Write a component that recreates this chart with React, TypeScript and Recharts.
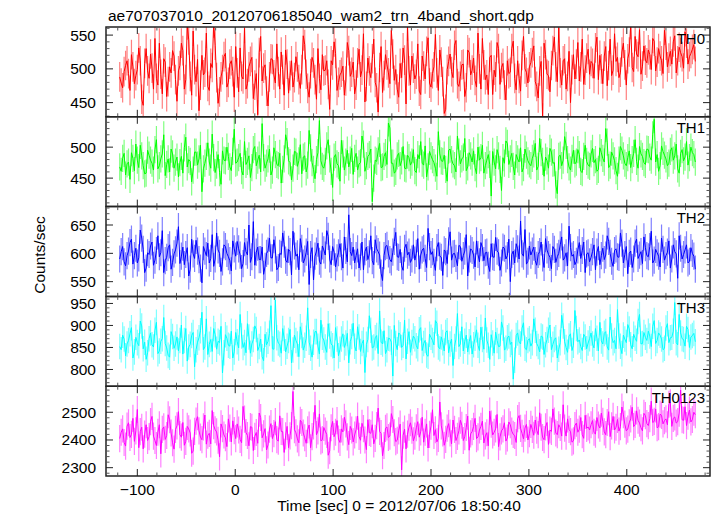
import { LineChart, Line, XAxis, YAxis, ErrorBar, ReferenceArea } from "recharts";

// light curve bins: t = -118 + 1.5 * i  (sec from 2012/07/06 18:50:40)
// each band is read as two interleaved lists: "a" = even bins, "b" = odd bins
const T_START = -118;
const T_STEP = 1.5;

const th0a = [
  488, 472, 505, 493, 521, 478, 499, 512, 446, 530, 486, 501, 545, 476, 492, 515, 459, 503, 527, 484,
  497, 538, 470, 565, 489, 556, 481, 438, 520, 495, 474, 508, 568, 487, 466, 499, 523, 480, 512, 458,
  494, 531, 485, 470, 503, 517, 476, 432, 548, 501, 467, 488, 514, 479, 496, 525, 461, 507, 490, 473,
  518, 484, 499, 536, 471, 493, 509, 455, 486, 521, 498, 477, 512, 540, 468, 491, 504, 482, 527, 495,
  463, 509, 488, 552, 474, 497, 515, 480, 436, 533, 490, 506, 478, 522, 499, 458, 487, 513, 563, 476,
  501, 492, 467, 519, 485, 546, 473, 503, 494, 528, 481, 440, 511, 496, 535, 478, 489, 507, 472, 524,
  498, 483, 553, 470, 506, 491, 517, 462, 488, 530, 502, 476, 512, 495, 541, 469, 486, 520, 500, 479,
  509, 534, 474, 497, 427, 521, 490, 505, 547, 481, 494, 512, 470, 526, 499, 485, 539, 503, 477, 516,
  492, 508, 531, 484, 500, 519, 475, 544, 498, 511, 487, 525, 506, 515, 566, 496, 522, 558, 504, 513,
  528, 499, 541, 510, 519, 493, 535, 516, 507, 549, 512, 524, 501, 538, 518, 529, 511,
];
const th0b = [
  479, 496, 512, 468, 503, 490, 531, 455, 508, 497, 522, 470, 486, 538, 463, 510, 481, 494, 519, 452,
  505, 527, 484, 543, 461, 499, 514, 476, 491, 553, 468, 502, 535, 449, 488, 518, 473, 507, 496, 533,
  466, 489, 560, 478, 511, 456, 493, 524, 482, 506, 445, 515, 491, 537, 470, 499, 528, 464, 512, 487,
  503, 471, 549, 492, 458, 517, 484, 530, 469, 497, 512, 440, 506, 523, 480, 495, 461, 539, 489, 510,
  476, 529, 498, 451, 516, 487, 544, 472, 502, 465, 521, 494, 557, 483, 470, 508, 531, 448, 497, 519,
  485, 537, 462, 504, 526, 479, 493, 551, 468, 510, 434, 499, 522, 487, 542, 474, 506, 459, 528, 491,
  516, 473, 500, 545, 484, 462, 520, 498, 539, 477, 508, 454, 493, 530, 486, 512, 467, 548, 495, 503,
  524, 481, 457, 511, 538, 492, 466, 527, 503, 561, 476, 515, 489, 450, 521, 507, 482, 544, 498, 529,
  511, 486, 547, 520, 478, 533, 505, 490, 552, 517, 495, 538, 476, 525, 502, 548, 518, 492, 534, 509,
  521, 545, 497, 530, 512, 557, 503, 526, 540, 494, 532, 518, 555, 507, 523, 536,
];

const th1a = [
  468, 482, 455, 476, 491, 462, 479, 503, 470, 458, 487, 474, 496, 465, 481, 520, 472, 460, 489, 476,
  452, 485, 499, 468, 477, 463, 492, 481, 428, 474, 507, 466, 483, 471, 459, 494, 478, 485, 462, 529,
  476, 490, 455, 472, 486, 467, 501, 479, 460, 483, 474, 497, 463, 488, 470, 442, 481, 509, 475, 466,
  492, 478, 457, 486, 471, 499, 464, 480, 543, 469, 477, 512, 461, 484, 473, 445, 489, 476, 468, 498,
  482, 463, 475, 505, 470, 488, 412, 479, 494, 467, 485, 472, 531, 474, 461, 490, 478, 466, 487, 471,
  496, 459, 481, 474, 502, 468, 486, 475, 453, 489, 477, 464, 495, 480, 470, 518, 473, 484, 462, 491,
  476, 467, 500, 483, 458, 479, 472, 493, 465, 486, 430, 474, 506, 481, 469, 488, 476, 460, 497, 478,
  470, 489, 463, 514, 477, 484, 466, 492, 475, 425, 487, 479, 503, 468, 482, 473, 496, 461, 485, 477,
  469, 498, 480, 464, 491, 476, 508, 471, 486, 462, 479, 495, 474, 483, 467, 490, 477, 501, 485, 472,
  496, 479, 545, 488, 470, 493, 481, 474, 499, 486, 465, 490, 478, 509, 483, 491, 476,
];
const th1b = [
  461, 490, 473, 448, 482, 505, 467, 486, 457, 495, 479, 463, 512, 470, 489, 454, 481, 497, 466, 484,
  475, 458, 516, 480, 444, 492, 471, 503, 465, 485, 476, 521, 459, 488, 440, 479, 500, 468, 493, 474,
  483, 462, 509, 477, 451, 496, 470, 487, 538, 466, 481, 455, 499, 472, 490, 464, 520, 478, 447, 493,
  469, 504, 484, 460, 527, 475, 449, 491, 478, 466, 502, 481, 435, 488, 470, 511, 463, 495, 479, 456,
  490, 473, 518, 461, 485, 497, 450, 477, 506, 468, 491, 539, 474, 458, 486, 470, 501, 465, 483, 476,
  462, 488, 509, 471, 452, 493, 480, 466, 525, 478, 487, 445, 497, 473, 460, 492, 481, 514, 468, 486,
  494, 457, 479, 503, 470, 488, 421, 476, 496, 464, 483, 510, 472, 490, 455, 481, 499, 467, 487, 473,
  482, 506, 469, 491, 453, 478, 498, 474, 439, 485, 470, 517, 480, 463, 495, 476, 488, 459, 503, 471,
  489, 475, 461, 499, 482, 530, 467, 492, 478, 453, 501, 486, 470, 494, 480, 512, 466, 489, 475, 497,
  484, 520, 476, 461, 502, 487, 470, 493, 479, 505, 458, 496, 484, 471, 500, 488,
];

const th2a = [
  590, 612, 578, 604, 625, 596, 583, 641, 607, 574, 598, 620, 588, 631, 601, 566, 593, 615, 584, 606,
  647, 595, 580, 610, 572, 599, 623, 589, 548, 604, 618, 591, 577, 636, 600, 585, 612, 594, 569, 608,
  621, 597, 582, 603, 650, 594, 579, 611, 589, 563, 600, 627, 592, 606, 575, 598, 616, 584, 603, 639,
  595, 571, 609, 590, 621, 598, 553, 604, 586, 613, 597, 630, 580, 602, 592, 617, 574, 605, 668, 596,
  583, 608, 594, 571, 611, 599, 587, 624, 603, 565, 596, 614, 589, 602, 637, 593, 578, 609, 597, 584,
  615, 600, 572, 606, 591, 644, 598, 584, 610, 595, 561, 603, 622, 588, 600, 578, 612, 596, 633, 590,
  605, 576, 598, 619, 587, 602, 568, 594, 628, 601, 583, 609, 596, 550, 604, 617, 590, 599, 642, 586,
  597, 611, 579, 603, 592, 626, 598, 573, 607, 594, 615, 588, 601, 648, 595, 580, 606, 591, 620, 599,
  585, 603, 571, 612, 596, 589, 631, 600, 577, 608, 593, 618, 598, 564, 604, 590, 625, 597, 582, 610,
  594, 639, 588, 601, 576, 607, 596, 622, 590, 603, 556, 609, 598, 615, 586, 600, 572,
];
const th2b = [
  603, 585, 596, 619, 581, 609, 592, 627, 566, 601, 613, 579, 605, 594, 640, 587, 610, 572, 599, 618,
  582, 611, 598, 560, 625, 591, 604, 574, 612, 596, 583, 633, 590, 606, 568, 615, 600, 587, 622, 595,
  608, 573, 619, 597, 584, 656, 602, 589, 611, 577, 604, 592, 624, 571, 600, 636, 588, 607, 562, 613,
  599, 626, 583, 602, 545, 610, 595, 618, 581, 606, 640, 590, 612, 576, 601, 594, 629, 585, 603, 611,
  596, 574, 620, 603, 589, 631, 580, 608, 597, 552, 612, 599, 585, 621, 594, 607, 570, 616, 602, 590,
  588, 626, 597, 609, 575, 612, 603, 570, 619, 593, 606, 582, 638, 599, 591, 614, 586, 604, 560, 608,
  597, 622, 585, 610, 601, 579, 617, 593, 604, 570, 611, 590, 625, 598, 583, 608, 657, 595, 581, 613,
  604, 587, 598, 620, 575, 606, 593, 612, 584, 600, 629, 592, 578, 610, 598, 586, 619, 605, 566, 601,
  593, 615, 602, 580, 609, 597, 621, 586, 605, 594, 636, 583, 612, 600, 575, 618, 591, 603, 629, 596,
  612, 583, 607, 595, 627, 588, 602, 574, 615, 599, 631, 590, 606, 583, 610, 595,
];

const th3a = [
  852, 878, 831, 866, 895, 840, 861, 910, 847, 823, 870, 856, 889, 836, 864, 918, 849, 828, 875, 858,
  842, 901, 866, 819, 857, 884, 845, 872, 930, 851, 834, 868, 893, 846, 861, 792, 879, 855, 887, 840,
  863, 925, 850, 838, 874, 858, 899, 843, 869, 820, 856, 882, 847, 958, 860, 837, 871, 853, 891, 844,
  866, 829, 877, 855, 940, 848, 862, 886, 835, 873, 851, 904, 858, 826, 869, 846, 881, 860, 815, 875,
  853, 897, 841, 867, 857, 922, 849, 872, 836, 862, 888, 845, 870, 785, 859, 883, 850, 912, 864, 839,
  876, 854, 890, 843, 866, 830, 873, 856, 905, 847, 861, 884, 838, 869, 852, 927, 858, 842, 878, 863,
  835, 871, 855, 896, 846, 867, 823, 860, 885, 852, 908, 844, 872, 857, 778, 877, 862, 894, 848, 866,
  853, 915, 859, 840, 874, 856, 889, 845, 868, 826, 861, 899, 850, 876, 843, 934, 863, 852, 880, 847,
  870, 858, 893, 842, 865, 882, 851, 919, 861, 847, 876, 836, 869, 902, 856, 880, 864, 925, 859, 873,
  887, 852, 911, 866, 878, 845, 894, 861, 873, 952, 856, 883, 868, 898, 850, 877, 863,
];
const th3b = [
  845, 869, 858, 881, 826, 873, 854, 899, 862, 838, 883, 851, 907, 842, 870, 859, 832, 886, 848, 874,
  866, 835, 893, 851, 877, 806, 862, 888, 845, 915, 857, 841, 879, 864, 898, 838, 871, 853, 826, 884,
  849, 876, 861, 904, 837, 868, 891, 852, 829, 880, 864, 945, 846, 872, 857, 893, 840, 866, 815, 878,
  858, 897, 844, 871, 862, 828, 886, 853, 912, 867, 839, 876, 854, 895, 831, 869, 850, 882, 863, 905,
  842, 874, 859, 793, 868, 889, 851, 877, 933, 858, 836, 871, 862, 900, 845, 879, 855, 824, 886, 861,
  870, 847, 895, 859, 833, 880, 866, 911, 851, 874, 842, 888, 858, 809, 869, 852, 897, 864, 840, 877,
  856, 890, 843, 868, 917, 855, 879, 837, 866, 853, 894, 848, 876, 862, 821, 883, 858, 906, 845, 870,
  861, 889, 852, 876, 834, 868, 901, 857, 872, 846, 923, 863, 839, 881, 855, 893, 867, 843, 874, 860,
  883, 849, 871, 907, 858, 886, 844, 876, 866, 936, 853, 878, 861, 892, 847, 871, 909, 858, 884, 866,
  876, 898, 859, 883, 869, 848, 904, 872, 887, 861, 925, 870, 853, 891, 874, 882,
];

const th0123a = [
  2405, 2440, 2378, 2462, 2420, 2395, 2510, 2430, 2368, 2455, 2412, 2485, 2398, 2428, 2350, 2447, 2416, 2473, 2390, 2438,
  2502, 2410, 2381, 2449, 2425, 2360, 2468, 2433, 2401, 2490, 2417, 2386, 2452, 2429, 2339, 2441, 2408, 2476, 2393, 2434,
  2458, 2402, 2521, 2427, 2379, 2446, 2413, 2388, 2481, 2422, 2364, 2439, 2405, 2466, 2396, 2431, 2355, 2449, 2415, 2575,
  2426, 2390, 2463, 2408, 2437, 2372, 2451, 2419, 2494, 2401, 2432, 2345, 2444, 2412, 2470, 2391, 2429, 2458, 2383, 2436,
  2418, 2486, 2399, 2441, 2365, 2427, 2455, 2406, 2515, 2423, 2380, 2447, 2414, 2474, 2394, 2433, 2292, 2439, 2421, 2462,
  2397, 2444, 2410, 2482, 2428, 2371, 2450, 2416, 2393, 2537, 2425, 2402, 2459, 2386, 2438, 2413, 2471, 2398, 2445, 2363,
  2430, 2478, 2411, 2449, 2389, 2426, 2504, 2418, 2440, 2376, 2433, 2462, 2407, 2455, 2420, 2391, 2488, 2424, 2443, 2400,
  2456, 2417, 2435, 2498, 2409, 2447, 2384, 2431, 2468, 2419, 2445, 2527, 2414, 2438, 2392, 2452, 2428, 2481, 2406, 2442,
  2436, 2470, 2421, 2454, 2497, 2429, 2463, 2412, 2485, 2446, 2432, 2519, 2457, 2439, 2476, 2448, 2505, 2461, 2433, 2488,
  2452, 2540, 2467, 2444, 2493, 2458, 2476, 2529, 2449, 2483, 2466, 2580, 2471, 2452, 2508, 2474, 2491,
];
const th0123b = [
  2428, 2391, 2450, 2409, 2478, 2433, 2372, 2446, 2421, 2398, 2466, 2414, 2380, 2455, 2438, 2402, 2491, 2425, 2367, 2451,
  2419, 2463, 2395, 2440, 2352, 2431, 2484, 2410, 2447, 2385, 2424, 2506, 2437, 2399, 2458, 2418, 2376, 2443, 2469, 2405,
  2436, 2390, 2475, 2416, 2448, 2362, 2427, 2497, 2408, 2441, 2382, 2459, 2423, 2401, 2487, 2430, 2415, 2372, 2452, 2437,
  2404, 2471, 2425, 2388, 2454, 2412, 2525, 2433, 2397, 2445, 2420, 2361, 2467, 2428, 2403, 2440, 2482, 2411, 2449, 2393,
  2437, 2413, 2460, 2400, 2473, 2424, 2386, 2452, 2431, 2343, 2442, 2409, 2495, 2426, 2399, 2457, 2417, 2368, 2446, 2435,
  2414, 2466, 2429, 2392, 2458, 2420, 2509, 2437, 2406, 2451, 2381, 2443, 2425, 2472, 2398, 2433, 2453, 2412, 2486, 2422,
  2449, 2405, 2436, 2468, 2415, 2379, 2457, 2428, 2492, 2411, 2440, 2396, 2465, 2432, 2416, 2477, 2442, 2404, 2456, 2423,
  2438, 2472, 2419, 2446, 2401, 2463, 2436, 2512, 2425, 2455, 2414, 2443, 2476, 2430, 2397, 2461, 2439, 2419, 2489, 2447,
  2455, 2428, 2481, 2443, 2467, 2419, 2502, 2451, 2436, 2474, 2448, 2491, 2433, 2462, 2518, 2456, 2471, 2444, 2496, 2459,
  2477, 2463, 2512, 2448, 2489, 2470, 2455, 2534, 2478, 2461, 2497, 2473, 2520, 2486, 2465, 2500,
];

const interleave = (a: number[], b: number[]) => a.flatMap((v, i) => (i < b.length ? [v, b[i]] : [v]));

const names = ["TH0", "TH1", "TH2", "TH3", "TH0123"];
const series = [
  interleave(th0a, th0b),
  interleave(th1a, th1b),
  interleave(th2a, th2b),
  interleave(th3a, th3b),
  interleave(th0123a, th0123b),
];
const errors = [22, 22, 24, 29, 49];
const colors = ["#ff0000", "#00ff00", "#0000ff", "#00ffff", "#ff00ff"];
const yDomains: [number, number][] = [
  [429, 562],
  [404, 549],
  [524, 682.5],
  [762, 966],
  [2270, 2594],
];
const yMajor = [
  [450, 500, 550],
  [450, 500],
  [550, 600, 650],
  [800, 850, 900, 950],
  [2300, 2400, 2500],
];
const yMinorStep = [10, 10, 10, 10, 20];
const xMajor = [-100, 0, 100, 200, 300, 400];
const xDomain: [number, number] = [-132, 485];

const range = (a: number, b: number, s: number) => {
  const out: number[] = [];
  for (let v = a; v <= b + 1e-9; v += s) out.push(v);
  return out;
};
const xTicks = range(-120, 480, 20);

const W = 717;
const H = 516;
const TOP = 27;
const PANEL_H = 89.8;
const LEFT = 106;
const RIGHT = 7;
const FONT = "'Liberation Sans', Arial, Helvetica, sans-serif";
const AXIS = "#222";

function YTick(props: any) {
  const x = Number(props.x);
  const y = Number(props.y);
  const { payload, major, side, label } = props;
  const isMajor = major.includes(payload.value);
  const len = isMajor ? 7 : 3.5;
  const dir = side === "left" ? 1 : -1;
  return (
    <g>
      <path d={`M${x},${y}h${dir * len}`} stroke={isMajor ? AXIS : "#555"} strokeWidth={1} fill="none" />
      {label && isMajor && (
        <text x={x - 10} y={y} textAnchor="end" dominantBaseline="central" fontSize={15.5} fontFamily={FONT} fill="#000">
          {payload.value}
        </text>
      )}
    </g>
  );
}

function XTick(props: any) {
  const x = Number(props.x);
  const y = Number(props.y);
  const { payload, side, label } = props;
  const isMajor = xMajor.includes(payload.value);
  const len = isMajor ? 7 : 3.5;
  const dir = side === "bottom" ? -1 : 1;
  return (
    <g>
      <path d={`M${x},${y}v${dir * len}`} stroke={isMajor ? AXIS : "#555"} strokeWidth={1} fill="none" />
      {label && isMajor && (
        <text x={x} y={y + 13} textAnchor="middle" dominantBaseline="central" fontSize={15.5} fontFamily={FONT} fill="#000">
          {payload.value < 0 ? "\u2212" + Math.abs(payload.value) : payload.value}
        </text>
      )}
    </g>
  );
}

function Panel({ idx }: { idx: number }) {
  const top = TOP + idx * PANEL_H;
  const bottom = H - (top + PANEL_H);
  const data = series[idx].map((v, i) => ({ t: T_START + i * T_STEP, v, e: errors[idx] }));
  const yTicks = range(
    Math.ceil(yDomains[idx][0] / yMinorStep[idx]) * yMinorStep[idx],
    yDomains[idx][1],
    yMinorStep[idx]
  );
  const last = idx === series.length - 1;
  return (
    <>
      {/* data layer, clipped to the panel frame */}
      <div
        style={{
          position: "absolute",
          left: 0,
          top: 0,
          clipPath: `inset(${top}px ${RIGHT}px ${bottom}px ${LEFT}px)`,
        }}
      >
        <LineChart width={W} height={H} data={data} margin={{ top, bottom, left: LEFT, right: RIGHT }}>
          <XAxis dataKey="t" type="number" domain={xDomain} allowDataOverflow hide />
          <YAxis type="number" domain={yDomains[idx]} allowDataOverflow hide />
          <Line dataKey="v" stroke="none" dot={false} activeDot={false} isAnimationActive={false}>
            <ErrorBar
              dataKey="e"
              width={0}
              stroke={colors[idx]}
              strokeOpacity={0.5}
              strokeWidth={1.2}
              isAnimationActive={false}
            />
          </Line>
          <Line
            type="linear"
            dataKey="v"
            stroke={colors[idx]}
            strokeWidth={1}
            dot={false}
            activeDot={false}
            isAnimationActive={false}
          />
        </LineChart>
      </div>
      {/* frame and ticks */}
      <div style={{ position: "absolute", left: 0, top: 0 }}>
        <LineChart width={W} height={H} data={data} margin={{ top: top - 1, bottom: bottom - 1, left: 0, right: 0 }}>
          <XAxis
            xAxisId="b"
            dataKey="t"
            type="number"
            domain={xDomain}
            allowDataOverflow
            ticks={xTicks}
            interval={0}
            height={1}
            tickSize={0}
            tickMargin={0}
            tickLine={false}
            axisLine={false}
            tick={(p: any) => <XTick {...p} side="bottom" label={last} />}
          />
          <XAxis
            xAxisId="t"
            orientation="top"
            dataKey="t"
            type="number"
            domain={xDomain}
            allowDataOverflow
            ticks={xTicks}
            interval={0}
            height={1}
            tickSize={0}
            tickMargin={0}
            tickLine={false}
            axisLine={false}
            tick={(p: any) => <XTick {...p} side="top" label={false} />}
          />
          <YAxis
            yAxisId="l"
            type="number"
            domain={yDomains[idx]}
            allowDataOverflow
            ticks={yTicks}
            interval={0}
            width={LEFT}
            tickSize={0}
            tickMargin={0}
            tickLine={false}
            axisLine={false}
            tick={(p: any) => <YTick {...p} side="left" label major={yMajor[idx]} />}
          />
          <YAxis
            yAxisId="r"
            orientation="right"
            type="number"
            domain={yDomains[idx]}
            allowDataOverflow
            ticks={yTicks}
            interval={0}
            width={RIGHT}
            tickSize={0}
            tickMargin={0}
            tickLine={false}
            axisLine={false}
            tick={(p: any) => <YTick {...p} side="right" label={false} major={yMajor[idx]} />}
          />
          <ReferenceArea
            xAxisId="b"
            yAxisId="l"
            x1={xDomain[0]}
            x2={xDomain[1]}
            y1={yDomains[idx][0]}
            y2={yDomains[idx][1]}
            fill="none"
            fillOpacity={0}
            stroke={AXIS}
            strokeWidth={1.5}
            strokeOpacity={1}
            ifOverflow="visible"
          />
        </LineChart>
      </div>
    </>
  );
}

export default function App() {
  return (
    <div style={{ position: "absolute", left: 0, top: 0, width: W, height: H, background: "#fff", fontFamily: FONT }}>
      {series.map((_, i) => (
        <Panel key={i} idx={i} />
      ))}
      <svg width={W} height={H} style={{ position: "absolute", left: 0, top: 0, pointerEvents: "none" }}>
        <text x={108} y={20.5} fontSize={15.5} fontFamily={FONT} fill="#000">
          ae707037010_20120706185040_wam2_trn_4band_short.qdp
        </text>
        {names.map((n, i) => (
          <text
            key={n}
            x={705}
            y={TOP + i * PANEL_H + 11}
            textAnchor="end"
            dominantBaseline="central"
            fontSize={15}
            fontFamily={FONT}
            fill="#000"
          >
            {n}
          </text>
        ))}
        <text
          x={39}
          y={255}
          transform="rotate(-90 39 255)"
          textAnchor="middle"
          dominantBaseline="central"
          fontSize={15.5}
          fontFamily={FONT}
          fill="#000"
        >
          Counts/sec
        </text>
        <text x={399} y={505} textAnchor="middle" dominantBaseline="central" fontSize={15.5} fontFamily={FONT} fill="#000">
          Time [sec] 0 = 2012/07/06 18:50:40
        </text>
      </svg>
    </div>
  );
}
